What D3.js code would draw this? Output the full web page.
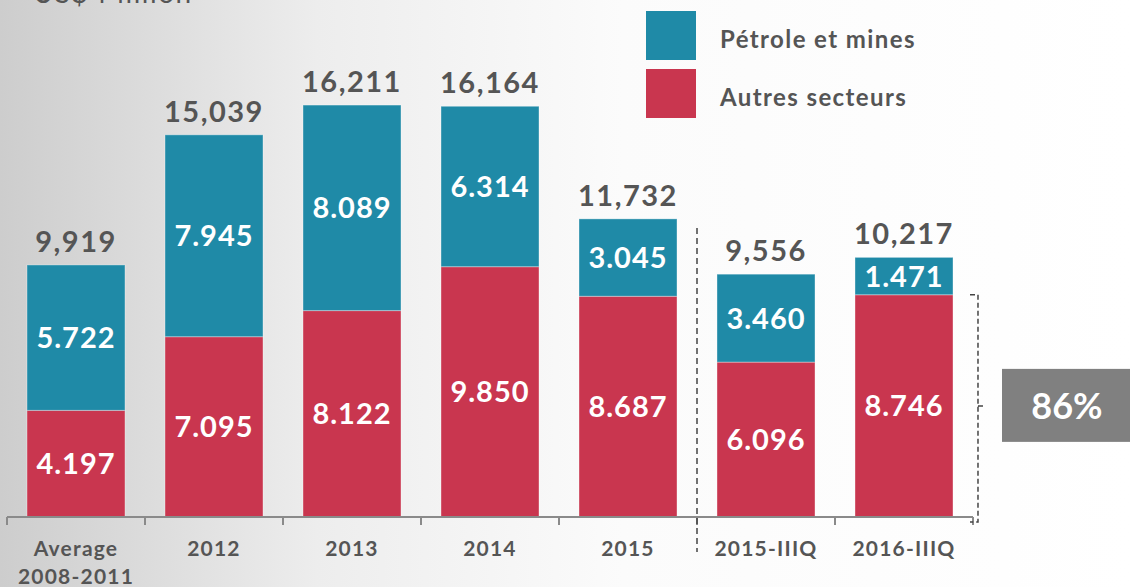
<!DOCTYPE html>
<html>
<head>
<meta charset="utf-8">
<script src="https://cdn.jsdelivr.net/npm/d3@7"></script>
<style>
  html, body { margin: 0; padding: 0; overflow: hidden; }
  svg { display: block; font-family: Lato, "Open Sans", sans-serif; }
</style>
</head>
<body>
<svg width="1130" height="587"></svg>
<script>
// données (US$ millions)
const categories = ['Average 2008-2011', '2012', '2013', '2014', '2015', '2015-IIIQ', '2016-IIIQ'];
const petrole = [5722, 7945, 8089, 6314, 3045, 3460, 1471];
const autres = [4197, 7095, 8122, 9850, 8687, 6096, 8746];
const totals = [9919, 15039, 16211, 16164, 11732, 9556, 10217];
const seriesNames = ['Pétrole et mines', 'Autres secteurs'];
const shareLabel = '86%';

const blue = '#1f8aa7';
const red = '#c9364f';
const grey = '#555555';

const svg = d3.select('svg');
const W = 1130, H = 587;

// fond en dégradé
const defs = svg.append('defs');
const grad = defs.append('linearGradient').attr('id', 'bg').attr('x1', 0).attr('x2', 1).attr('y1', 0).attr('y2', 0);
grad.append('stop').attr('offset', '0%').attr('stop-color', '#cdcdcd');
grad.append('stop').attr('offset', '28%').attr('stop-color', '#ededed');
grad.append('stop').attr('offset', '55%').attr('stop-color', '#fbfbfb');
grad.append('stop').attr('offset', '100%').attr('stop-color', '#ffffff');
svg.append('rect').attr('width', W).attr('height', H).attr('fill', 'url(#bg)');

// échelles
const x = d3.scaleBand()
  .domain(categories)
  .range([7, 973])
  .paddingInner(0.29)
  .paddingOuter(0.145);

const y = d3.scaleLinear()
  .domain([0, 20346])
  .range([517, 0]);

const data = categories.map((c, i) => ({ category: c, petrole: petrole[i], autres: autres[i], total: totals[i] }));
const stack = d3.stack().keys(['autres', 'petrole'])(data);
const colors = { autres: red, petrole: blue };

const dotFmt = d3.formatLocale({ decimal: ',', thousands: '.', grouping: [3], currency: ['', ''] }).format(',');
const commaFmt = d3.format(',');

// barres empilées
const layers = svg.append('g').selectAll('g')
  .data(stack)
  .join('g')
  .attr('fill', d => colors[d.key]);

layers.selectAll('rect')
  .data(d => d)
  .join('rect')
  .attr('x', d => x(d.data.category))
  .attr('y', d => y(d[1]))
  .attr('width', x.bandwidth())
  .attr('height', d => y(d[0]) - y(d[1]))
  .attr('stroke', 'rgba(255,255,255,0.35)')
  .attr('stroke-width', 1);

// valeurs dans les segments
layers.selectAll('text')
  .data(d => d)
  .join('text')
  .attr('x', d => x(d.data.category) + x.bandwidth() / 2)
  .attr('y', d => (y(d[0]) + y(d[1])) / 2)
  .attr('dy', '0.36em')
  .attr('text-anchor', 'middle')
  .attr('fill', '#fff')
  .attr('font-weight', 'bold')
  .attr('font-size', 29)
  .attr('letter-spacing', 1)
  .text(d => dotFmt(d[1] - d[0]));

// totaux au-dessus
svg.append('g').selectAll('text')
  .data(data)
  .join('text')
  .attr('x', d => x(d.category) + x.bandwidth() / 2)
  .attr('y', d => y(d.petrole + d.autres) - 13)
  .attr('text-anchor', 'middle')
  .attr('fill', grey)
  .attr('font-weight', 'bold')
  .attr('font-size', 29)
  .attr('letter-spacing', 1.5)
  .text(d => commaFmt(d.total));

// axe x
const axis = svg.append('g').attr('transform', 'translate(0,517)');
axis.append('line')
  .attr('x1', 7).attr('x2', 973)
  .attr('stroke', '#8a8a8a').attr('stroke-width', 2);
const bounds = categories.map(c => x(c) - x.step() * x.paddingInner() / 2 - (x(categories[0]) === x(c) ? x.step() * (x.paddingOuter() - x.paddingInner() / 2) : 0));
bounds.push(973);
axis.selectAll('.tick')
  .data(bounds)
  .join('line')
  .attr('x1', d => d).attr('x2', d => d)
  .attr('y1', 0).attr('y2', 8)
  .attr('stroke', '#8a8a8a').attr('stroke-width', 2);

// libellés de l'axe
const labels = svg.append('g').selectAll('text')
  .data(categories)
  .join('text')
  .attr('x', d => x(d) + x.bandwidth() / 2)
  .attr('y', 556)
  .attr('text-anchor', 'middle')
  .attr('fill', grey)
  .attr('font-weight', 'bold')
  .attr('font-size', 21)
  .attr('letter-spacing', 1.2);
labels.each(function (d) {
  const parts = d.startsWith('Average') ? ['Average', '2008-2011'] : [d];
  d3.select(this).selectAll('tspan')
    .data(parts)
    .join('tspan')
    .attr('x', x(d) + x.bandwidth() / 2)
    .attr('dy', (p, i) => i === 0 ? 0 : 28)
    .text(p => p);
});

// séparateur pointillé entre 2015 et 2015-IIIQ
const sepX = x('2015-IIIQ') - x.step() * x.paddingInner() / 2;
svg.append('line')
  .attr('x1', sepX).attr('x2', sepX)
  .attr('y1', 228).attr('y2', 552)
  .attr('stroke', '#444').attr('stroke-width', 1.5)
  .attr('stroke-dasharray', '6,4');

// accolade autour des autres secteurs 2016
const last = categories[categories.length - 1];
const bx = x(last) + x.bandwidth() + 25;
const bTop = y(autres[autres.length - 1]);
const bBot = y(0) + 5;
const bMid = y(autres[autres.length - 1] / 2);
svg.append('path')
  .attr('d', `M${bx - 8},${bTop} H${bx} V${bBot} H${bx - 8} M${bx},${bMid} H${bx + 8}`)
  .attr('fill', 'none')
  .attr('stroke', '#444').attr('stroke-width', 1.5)
  .attr('stroke-dasharray', '5,3');

// encadré 86%
svg.append('rect')
  .attr('x', 1002).attr('y', bMid - 37)
  .attr('width', 128).attr('height', 73)
  .attr('fill', '#808080');
svg.append('text')
  .attr('x', 1067).attr('y', bMid)
  .attr('dy', '0.36em')
  .attr('text-anchor', 'middle')
  .attr('fill', '#fff')
  .attr('font-weight', 'bold')
  .attr('font-size', 36)
  .text(shareLabel);

// légende
const legend = svg.append('g').selectAll('g')
  .data(seriesNames)
  .join('g')
  .attr('transform', (d, i) => `translate(646,${11 + i * 58})`);
legend.append('rect')
  .attr('width', 50).attr('height', 49)
  .attr('fill', (d, i) => i === 0 ? blue : red);
legend.append('text')
  .attr('x', 74).attr('y', 28)
  .attr('dy', '0.36em')
  .attr('fill', grey)
  .attr('font-weight', 'bold')
  .attr('font-size', 24)
  .attr('letter-spacing', 1.4)
  .text(d => d);

// titre coupé en haut
svg.append('text')
  .attr('x', 33).attr('y', 3)
  .attr('fill', grey)
  .attr('font-size', 28)
  .attr('letter-spacing', 1.5)
  .text('US$ Million');
</script>
</body>
</html>
